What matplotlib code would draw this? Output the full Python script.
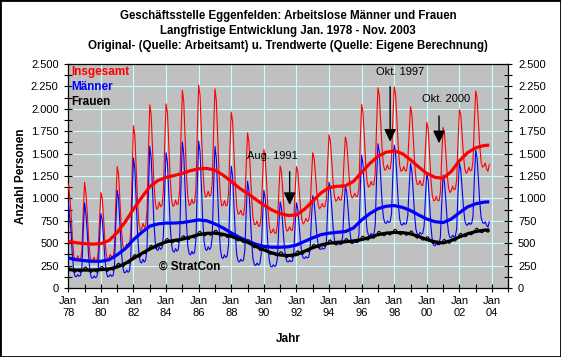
import numpy as np
import matplotlib
matplotlib.use("Agg")
import matplotlib.pyplot as plt
from matplotlib.ticker import FixedLocator, MultipleLocator, FuncFormatter
from matplotlib.patches import Rectangle

plt.rcParams['font.family'] = ['Liberation Sans', 'DejaVu Sans']

# ---------------- data (monthly, Jan 1978 - Nov 2003) ----------------
start_year = 1978

maenner = [
    960, 800, 630, 360, 190, 130, 125, 150, 130, 140, 220, 640,        # 1978
    950, 820, 610, 345, 180, 115, 110, 135, 115, 125, 200, 555,        # 1979
    830, 760, 550, 320, 180, 125, 130, 150, 130, 140, 240, 725,        # 1980
    1090, 1000, 720, 430, 245, 175, 170, 200, 175, 190, 320, 965,      # 1981
    1450, 1330, 980, 610, 375, 290, 280, 320, 290, 310, 460, 1085,     # 1982
    1580, 1460, 1115, 745, 515, 430, 420, 460, 430, 450, 580, 1095,    # 1983
    1510, 1400, 1065, 710, 490, 410, 400, 440, 410, 430, 560, 1165,    # 1984
    1630, 1500, 1125, 725, 470, 380, 370, 410, 380, 400, 540, 1155,    # 1985
    1640, 1520, 1150, 760, 520, 430, 420, 460, 430, 450, 570, 1140,    # 1986
    1580, 1450, 1080, 680, 430, 340, 330, 370, 340, 360, 480, 970,     # 1987
    1360, 1250, 930, 590, 375, 300, 290, 320, 300, 310, 420, 850,      # 1988
    1190, 1090, 815, 515, 325, 260, 250, 280, 255, 270, 370, 770,      # 1989
    1090, 1000, 750, 475, 305, 240, 235, 260, 240, 250, 340, 685,      # 1990
    960, 890, 690, 480, 345, 295, 290, 310, 295, 300, 380, 700,        # 1991
    950, 880, 700, 505, 380, 335, 330, 350, 335, 345, 420, 765,        # 1992
    1030, 960, 790, 600, 480, 435, 430, 450, 435, 445, 510, 895,       # 1993
    1180, 1100, 900, 675, 535, 485, 480, 500, 485, 495, 570, 890,      # 1994
    1140, 1070, 885, 680, 550, 505, 500, 520, 505, 515, 590, 1110,     # 1995
    1480, 1380, 1120, 830, 650, 590, 580, 610, 590, 600, 700, 1220,    # 1996
    1610, 1520, 1255, 970, 790, 730, 720, 750, 730, 740, 830, 1265,    # 1997
    1595, 1500, 1235, 950, 770, 710, 700, 730, 710, 720, 810, 1130,    # 1998
    1390, 1300, 1070, 815, 655, 600, 590, 620, 600, 610, 690, 1020,    # 1999
    1280, 1200, 955, 695, 535, 480, 470, 500, 480, 490, 570, 960,      # 2000
    1260, 1180, 980, 755, 615, 565, 560, 590, 570, 580, 660, 1075,     # 2001
    1390, 1320, 1115, 895, 755, 705, 700, 730, 710, 720, 800, 1220,    # 2002
    1540, 1450, 1210, 950, 785, 730, 720, 740, 700, 680, 740,          # 2003
]

frauen = [
    200, 225, 210, 197, 181, 175, 195, 210, 185, 175, 190, 205,
    230, 235, 215, 195, 180, 175, 195, 210, 186, 177, 193, 209,
    235, 241, 222, 203, 190, 186, 207, 226, 205, 199, 217, 236,
    265, 277, 263, 250, 242, 243, 270, 294, 278, 277, 302, 326,
    360, 374, 363, 353, 347, 351, 380, 403, 387, 385, 408, 432,
    465, 478, 465, 453, 445, 448, 475, 496, 477, 473, 493, 514,
    545, 553, 535, 518, 505, 503, 525, 543, 520, 513, 530, 548,
    575, 584, 568, 553, 542, 541, 565, 584, 563, 558, 577, 596,
    625, 633, 615, 598, 585, 583, 605, 620, 596, 586, 601, 617,
    642, 645, 623, 601, 584, 577, 595, 606, 577, 563, 573, 584,
    605, 605, 580, 555, 535, 525, 540, 549, 518, 503, 512, 521,
    540, 538, 510, 483, 460, 448, 460, 468, 437, 420, 428, 437,
    455, 455, 430, 405, 385, 375, 390, 401, 372, 359, 370, 381,
    402, 405, 384, 362, 345, 339, 357, 374, 351, 343, 361, 378,
    405, 416, 402, 388, 378, 379, 405, 427, 408, 405, 427, 448,
    480, 490, 475, 460, 450, 450, 475, 493, 472, 465, 483, 502,
    530, 537, 518, 500, 487, 483, 505, 521, 497, 488, 503, 519,
    545, 552, 533, 515, 502, 498, 520, 538, 515, 508, 525, 543,
    570, 579, 563, 548, 537, 536, 560, 580, 560, 555, 575, 595,
    625, 633, 616, 599, 586, 584, 607, 623, 600, 591, 607, 624,
    650, 655, 634, 614, 599, 593, 613, 626, 599, 587, 599, 612,
    635, 635, 610, 585, 565, 555, 570, 579, 548, 533, 542, 551,
    570, 571, 547, 523, 503, 494, 510, 523, 496, 484, 497, 510,
    533, 543, 527, 512, 501, 501, 525, 547, 528, 525, 547, 568,
    600, 611, 597, 583, 573, 574, 600, 619, 598, 593, 612, 631,
    660, 668, 650, 633, 620, 618, 640, 656, 631, 622, 637,
]

insgesamt = [
    1160, 1025, 840, 557, 371, 305, 320, 360, 315, 315, 410, 845,
    1180, 1055, 825, 540, 360, 290, 305, 345, 301, 302, 393, 764,
    1065, 1001, 772, 523, 370, 311, 337, 376, 335, 339, 457, 961,
    1355, 1277, 983, 680, 487, 418, 440, 494, 453, 467, 622, 1291,
    1810, 1704, 1343, 963, 722, 641, 660, 723, 677, 695, 868, 1517,
    2045, 1938, 1580, 1198, 960, 878, 895, 956, 907, 923, 1073, 1609,
    2055, 1953, 1600, 1228, 995, 913, 925, 983, 930, 943, 1090, 1713,
    2205, 2084, 1693, 1278, 1012, 921, 935, 994, 943, 958, 1117, 1751,
    2265, 2153, 1765, 1358, 1105, 1013, 1025, 1080, 1026, 1036, 1171, 1757,
    2222, 2095, 1703, 1281, 1014, 917, 925, 976, 917, 923, 1053, 1554,
    1965, 1855, 1510, 1145, 910, 825, 830, 869, 818, 813, 932, 1371,
    1730, 1628, 1325, 998, 785, 708, 710, 748, 692, 690, 798, 1207,
    1545, 1455, 1180, 880, 690, 615, 625, 661, 612, 609, 710, 1066,
    1362, 1295, 1074, 842, 690, 634, 647, 684, 646, 643, 741, 1078,
    1355, 1296, 1102, 893, 758, 714, 735, 777, 743, 750, 847, 1213,
    1510, 1450, 1265, 1060, 930, 885, 905, 943, 907, 910, 993, 1397,
    1710, 1637, 1418, 1175, 1022, 968, 985, 1021, 982, 983, 1073, 1409,
    1685, 1622, 1418, 1195, 1052, 1003, 1020, 1058, 1020, 1023, 1115, 1653,
    2050, 1959, 1683, 1378, 1187, 1126, 1140, 1190, 1150, 1155, 1275, 1815,
    2235, 2153, 1871, 1569, 1376, 1314, 1327, 1373, 1330, 1331, 1437, 1889,
    2245, 2155, 1869, 1564, 1369, 1303, 1313, 1356, 1309, 1307, 1409, 1742,
    2025, 1935, 1680, 1400, 1220, 1155, 1160, 1199, 1148, 1143, 1232, 1571,
    1850, 1771, 1502, 1218, 1038, 974, 980, 1023, 976, 974, 1067, 1470,
    1793, 1723, 1507, 1267, 1116, 1066, 1085, 1137, 1098, 1105, 1207, 1643,
    1990, 1931, 1712, 1478, 1328, 1279, 1300, 1349, 1308, 1313, 1412, 1851,
    2200, 2118, 1860, 1583, 1405, 1348, 1360, 1396, 1331, 1302, 1377,
]

# Trend values (Jan and Jul of each year, last point Nov 2003)
trend_months = list(range(0, 312, 6)) + [310]
trend_insgesamt = [520, 505, 495, 490, 495, 530, 620, 740, 880, 1010, 1130, 1200,
                   1235, 1255, 1280, 1310, 1330, 1335, 1315, 1260, 1190, 1115,
                   1055, 990, 925, 870, 830, 810, 815, 880, 970, 1060, 1120, 1135,
                   1140, 1190, 1290, 1390, 1470, 1515, 1530, 1500, 1430, 1350,
                   1280, 1235, 1225, 1300, 1420, 1510, 1565, 1590, 1595]
trend_maenner = [335, 315, 305, 298, 298, 315, 370, 440, 540, 620, 690, 715,
                 725, 725, 730, 745, 760, 750, 715, 670, 615, 565, 525, 490,
                 465, 455, 455, 460, 480, 520, 560, 595, 612, 622, 630, 670,
                 760, 830, 885, 912, 920, 900, 865, 815, 770, 740, 730, 770,
                 840, 905, 940, 958, 962]
trend_frauen = [205, 200, 200, 200, 205, 212, 235, 275, 330, 385, 435, 480,
                515, 530, 545, 570, 595, 610, 612, 600, 575, 545, 510, 465,
                425, 390, 368, 362, 372, 410, 450, 480, 500, 510, 515, 525,
                540, 565, 595, 612, 620, 618, 605, 575, 540, 515, 503, 530,
                570, 605, 630, 645, 648]

title_lines = ["Geschäftsstelle Eggenfelden: Arbeitslose Männer und Frauen",
               "Langfristige Entwicklung Jan. 1978 - Nov. 2003",
               "Original- (Quelle: Arbeitsamt) u. Trendwerte (Quelle: Eigene Berechnung)"]
series_names = ["Insgesamt", "Männer", "Frauen"]
series_colors = ["#FF0000", "#0000FF", "#000000"]
label_years = list(range(1978, 2005, 2))
annotations = [("Aug. 1991", 1991 + 7 / 12), ("Okt. 1997", 1997 + 9 / 12), ("Okt. 2000", 2000 + 9 / 12)]

# ---------------- figure ----------------
W, H = 561, 357
fig = plt.figure(figsize=(W / 100, H / 100), dpi=100)
fig.patch.set_facecolor("white")
ax = fig.add_axes([68.3 / W, 1 - 288 / H, 440 / W, 224 / H])
ax.set_facecolor("#C0C0C0")

x = start_year + np.arange(len(insgesamt)) / 12.0
tx = start_year + np.array(trend_months) / 12.0

ax.plot(x, insgesamt, color=series_colors[0], lw=0.8, zorder=3)
ax.plot(x, maenner, color=series_colors[1], lw=0.8, zorder=3)
ax.plot(x, frauen, color=series_colors[2], lw=0.8, zorder=3)
ax.plot(tx, trend_insgesamt, color=series_colors[0], lw=2.3, zorder=4, solid_capstyle="butt")
ax.plot(tx, trend_maenner, color=series_colors[1], lw=2.3, zorder=4, solid_capstyle="butt")
ax.plot(tx, trend_frauen, color=series_colors[2], lw=2.3, zorder=4, solid_capstyle="butt")

ax.set_xlim(1978, 2005)
ax.set_ylim(0, 2500)

ax.xaxis.set_major_locator(FixedLocator(label_years))
ax.xaxis.set_minor_locator(FixedLocator(list(range(1979, 2006, 2))))
ax.set_xticklabels([f"Jan\n{y % 100:02d}" for y in label_years])
ax.yaxis.set_major_locator(MultipleLocator(250))
ax.yaxis.set_minor_locator(MultipleLocator(125))
ax.yaxis.set_major_formatter(FuncFormatter(lambda v, p: f"{v:,.0f}".replace(",", ".")))

ax.tick_params(axis="x", which="both", direction="inout", length=6, width=0.8,
               labelsize=8, pad=3)
ax.tick_params(axis="y", which="both", direction="inout", length=6, width=0.8,
               left=True, right=True, labelleft=True, labelright=True,
               labelsize=8, pad=4)

ax.grid(True, which="major", color="#C8FFFF", lw=0.8)
ax.set_axisbelow(True)
for s in ax.spines.values():
    s.set_color("black")
    s.set_linewidth(0.9)

# titles
for i, t in enumerate(title_lines):
    fig.text(288 / W, 1 - (15.7 + 15 * i) / H, t, ha="center", va="center",
             fontsize=8.3, fontweight="bold")

fig.text(21 / W, 1 - 176 / H, "Anzahl Personen", rotation=90, ha="center", va="center",
         fontsize=8.5, fontweight="bold")
fig.text(288 / W, 1 - 339 / H, "Jahr", ha="center", va="center",
         fontsize=8.5, fontweight="bold")

# legend-like labels
for i, (n, c) in enumerate(zip(series_names, series_colors)):
    ax.text(0.006, 0.964 - 0.066 * i, n, color=c, transform=ax.transAxes,
            ha="left", va="center", fontsize=8.5, fontweight="bold", zorder=6)

ax.text(0.206, 0.096, "© StratCon", transform=ax.transAxes, ha="left", va="center",
        fontsize=8.5, fontweight="bold", zorder=6)

# annotations with arrows
arrow_spec = [((1990.5, 1473), (1298, 926)),
              ((1998.38, 2414), (2246, 1633)),
              ((2001.2, 2104), (1920, 1615))]
for (label, xa), ((tx_, ty_), (y0, y1)) in zip(annotations, arrow_spec):
    ax.text(tx_, ty_, label, ha="center", va="center", fontsize=8, zorder=6)
    ax.annotate("", xy=(xa, y1), xytext=(xa, y0),
                arrowprops=dict(arrowstyle="-|>,head_width=0.36,head_length=0.75",
                                color="black", lw=1, shrinkA=0, shrinkB=0,
                                mutation_scale=10), zorder=6)

# figure border
fig.add_artist(Rectangle((0, 0), 1, 1, transform=fig.transFigure, fill=False,
                         edgecolor="black", lw=2))

fig.savefig("out.png", dpi=100)
